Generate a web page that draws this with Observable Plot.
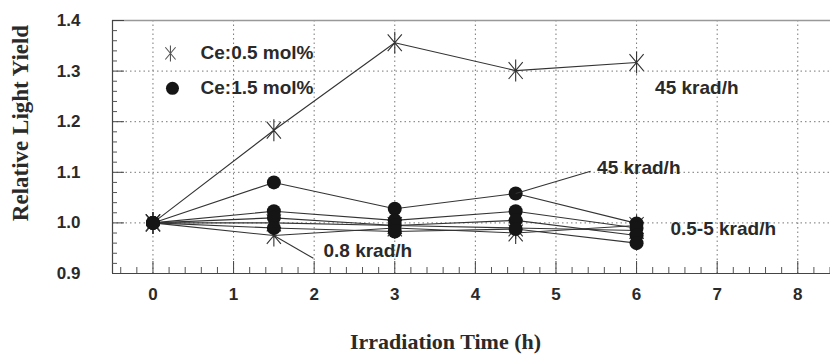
<!DOCTYPE html>
<html><head><meta charset="utf-8">
<script src="https://cdn.jsdelivr.net/npm/d3@7"></script>
<script src="https://cdn.jsdelivr.net/npm/@observablehq/plot@0.6"></script>
<style>body{margin:0;background:#fff}</style>
</head><body><div id="chart"></div>
<script>
// ---- data ----
const times = [0, 1.5, 3, 4.5, 6];
// Ce:0.5 mol% (asterisk markers)
const ce05_45krad = [1.0, 1.183, 1.356, 1.301, 1.317];
const ce05_08krad = [1.0, 0.975, 0.99, 0.98, 0.995];
const ce05_low = [1.0, 1.0, 0.995, 0.99, 0.985];
// Ce:1.5 mol% (filled circles)
const ce15_45krad = [1.0, 1.08, 1.028, 1.058, 0.999];
const ce15_lowA = [1.0, 1.023, 1.005, 1.023, 0.99];
const ce15_lowB = [1.0, 1.01, 0.995, 1.005, 0.975];
const ce15_lowC = [1.0, 0.99, 0.983, 0.988, 0.96];
const xTicks = [0, 1, 2, 3, 4, 5, 6, 7, 8];
const yTicks = [0.9, 1.0, 1.1, 1.2, 1.3, 1.4];
const legendLabels = ["Ce:0.5 mol%", "Ce:1.5 mol%"];
const xTitle = "Irradiation Time (h)";
const yTitle = "Relative Light Yield";

const seriesDefs = [
  {name: "ce05_45", conc: "0.5", values: ce05_45krad},
  {name: "ce05_08", conc: "0.5", values: ce05_08krad},
  {name: "ce05_low", conc: "0.5", values: ce05_low},
  {name: "ce15_45", conc: "1.5", values: ce15_45krad},
  {name: "ce15_A", conc: "1.5", values: ce15_lowA},
  {name: "ce15_B", conc: "1.5", values: ce15_lowB},
  {name: "ce15_C", conc: "1.5", values: ce15_lowC}
];
const rows = seriesDefs.flatMap(s => times.map((t, i) => ({series: s.name, conc: s.conc, t, v: s.values[i]})));
const dotRows = rows.filter(d => d.conc === "1.5");
const starRows = rows.filter(d => d.conc === "0.5");

const X0 = -0.502, X1 = 8.406;
const minor = d3.range(-0.4, 8.41, 0.2).map(d => +d.toFixed(1)).filter(d => Math.abs(d - Math.round(d)) > 1e-6);
const yMinor = d3.range(0.92, 1.4, 0.02).map(d => +d.toFixed(2)).filter(d => Math.abs(d * 10 - Math.round(d * 10)) > 1e-6);

const star = {draw(ctx, size) {
  const r = Math.sqrt(size / Math.PI);
  const a = 50 * Math.PI / 180, c = Math.cos(a) * r, s = Math.sin(a) * r;
  ctx.moveTo(0, -r); ctx.lineTo(0, r);
  ctx.moveTo(-c, -s); ctx.lineTo(c, s);
  ctx.moveTo(-c, s); ctx.lineTo(c, -s);
}};

const sans = "'Liberation Sans Narrow', 'Arial Narrow', 'Liberation Sans', Arial, sans-serif";
const serif = "'Liberation Serif', 'Times New Roman', serif";
const ink = "#2a2a2a";
const pxY = 253 / 0.5; // px per unit y (for tick lengths)

const chart = Plot.plot({
  width: 830, height: 358,
  marginLeft: 112, marginRight: 0, marginTop: 20, marginBottom: 85,
  x: {domain: [X0, X1]},
  y: {domain: [0.9, 1.4]},
  style: {fontFamily: sans, color: ink, background: "#fff"},
  marks: [
    Plot.gridX(xTicks, {stroke: "#777", strokeOpacity: 1, strokeDasharray: "1.5,3"}),
    Plot.gridY([1.0, 1.1, 1.2, 1.3], {stroke: "#777", strokeOpacity: 1, strokeDasharray: "1.5,3"}),
    // frame lines
    Plot.ruleY([0.9], {stroke: "#444", strokeWidth: 1.2}),
    Plot.ruleY([1.4], {stroke: "#999", strokeWidth: 1.5}),
    Plot.ruleX([X0], {stroke: "#444", strokeWidth: 1.2}),
    // inward ticks
    Plot.ruleX(xTicks, {x: d => d, y1: 0.9, y2: 0.9 + 12 / pxY, stroke: "#444"}),
    Plot.ruleX(minor, {x: d => d, y1: 0.9, y2: 0.9 + 6 / pxY, stroke: "#555"}),
    Plot.ruleY(yTicks, {y: d => d, x1: X0, x2: X0 + 12 / 80.6, stroke: "#444"}),
    Plot.ruleY(yMinor, {y: d => d, x1: X0, x2: X0 + 5 / 80.6, stroke: "#555"}),
    Plot.axisX({ticks: xTicks, tickSize: 0, tickPadding: 14, label: null, fontSize: 17, fontWeight: "bold", tickFormat: d => String(d)}),
    Plot.axisY({ticks: yTicks, tickSize: 0, tickPadding: 32, label: null, fontSize: 17, fontWeight: "bold", tickFormat: d3.format(".1f")}),
    // series
    Plot.line(rows, {x: "t", y: "v", z: "series", stroke: "#333", strokeWidth: 1.1}),
    Plot.dot(starRows, {x: "t", y: "v", symbol: star, r: 11, stroke: "#333", strokeWidth: 1.1, fill: "none"}),
    Plot.dot(dotRows, {x: "t", y: "v", r: 7, fill: "#151515", stroke: "none"}),
    // leader lines
    Plot.link([{x1: 4.5, y1: 1.058, x2: 5.43, y2: 1.102}, {x1: 1.5, y1: 0.975, x2: 1.99, y2: 0.93}],
      {x1: "x1", y1: "y1", x2: "x2", y2: "y2", stroke: "#333", strokeWidth: 1.1}),
    // legend
    Plot.dot([{x: 0.217, y: 1.335}], {x: "x", y: "y", symbol: star, r: 8, stroke: "#555", strokeWidth: 1.1, fill: "none"}),
    Plot.dot([{x: 0.242, y: 1.266}], {x: "x", y: "y", r: 6.5, fill: "#151515"}),
    Plot.text([legendLabels[0]], {x: 0.59, y: 1.335, textAnchor: "start", fontSize: 19, fontWeight: "bold", fill: ink}),
    Plot.text([legendLabels[1]], {x: 0.59, y: 1.266, textAnchor: "start", fontSize: 19, fontWeight: "bold", fill: ink}),
    // annotations
    Plot.text(["45 krad/h"], {x: 6.23, y: 1.266, textAnchor: "start", fontSize: 19, fontWeight: "bold", fill: ink}),
    Plot.text(["45 krad/h"], {x: 5.51, y: 1.109, textAnchor: "start", fontSize: 19, fontWeight: "bold", fill: ink}),
    Plot.text(["0.5-5 krad/h"], {x: 6.42, y: 0.989, textAnchor: "start", fontSize: 19, fontWeight: "bold", fill: ink}),
    Plot.text(["0.8 krad/h"], {x: 2.115, y: 0.945, textAnchor: "start", fontSize: 19, fontWeight: "bold", fill: ink}),
    // titles
    Plot.text([xTitle], {frameAnchor: "bottom", textAnchor: "middle", dx: -26, dy: 75, fontFamily: serif, fontWeight: "bold", fontSize: 22, fill: ink}),
    Plot.text([yTitle], {frameAnchor: "left", textAnchor: "middle", dx: -92, dy: -24, rotate: -90, fontFamily: serif, fontWeight: "bold", fontSize: 23, fill: ink})
  ]
});
document.getElementById("chart").appendChild(chart);
</script>
</body></html>
